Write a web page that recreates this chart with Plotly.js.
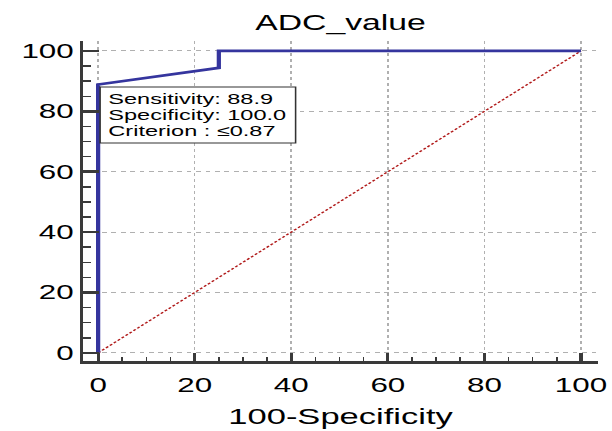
<!DOCTYPE html>
<html>
<head>
<meta charset="utf-8">
<script src="https://cdn.plot.ly/plotly-3.0.1.min.js"></script>
<style>
html, body { margin: 0; padding: 0; background: #fff; overflow: hidden; }
#plot { width: 390px; height: 431px; transform: scaleX(1.5692); transform-origin: 0 0; }
</style>
</head>
<body>
<div id="plot"></div>
<script>
// ROC curve data (100-Specificity, Sensitivity)
const rocX = [0, 0, 25, 25, 100];
const rocY = [0, 88.9, 94.4, 100, 100];
const diagX = [0, 100];
const diagY = [0, 100];
const tickVals = [0, 20, 40, 60, 80, 100];
const tickText = ["0", "20", "40", "60", "80", "100"];
const infoLines = ["Sensitivity: 88.9", "Specificity: 100.0", "Criterion : \u22640.87"];
const infoY = [84.1, 78.8, 73.5];

const font = "Liberation Sans, Arial, sans-serif";

const traces = [
  { x: diagX, y: diagY, mode: "lines", line: { color: "#b01818", width: 1.2, dash: "2px,1.5px" }, hoverinfo: "skip" },
  { x: rocX, y: rocY, mode: "lines", line: { color: "#35359e", width: 2.7 }, hoverinfo: "skip" }
];

const annotations = infoLines.map((t, i) => ({
  x: 1.5, y: infoY[i], xref: "x", yref: "y", xanchor: "left", yanchor: "middle",
  text: t, showarrow: false, font: { family: font, size: 15, color: "#000" }
}));

const layout = {
  width: 390, height: 431,
  margin: { l: 52.9, r: 8.9, t: 40.7, b: 69.5 },
  paper_bgcolor: "#fff", plot_bgcolor: "#fff",
  showlegend: false,
  title: { text: "ADC_value", font: { family: font, size: 21.5, color: "#000" },
           xref: "paper", x: 0.5, xanchor: "center", yref: "container", y: 1 - 22 / 431, yanchor: "middle" },
  xaxis: {
    range: [-3.1, 103.5], tickvals: tickVals, ticktext: tickText,
    showline: true, linecolor: "#3a3a3a", linewidth: 3,
    ticks: "inside", ticklen: 8, tickwidth: 2, tickcolor: "#3a3a3a",
    minor: { dtick: 5, tick0: 0, ticks: "inside", ticklen: 4, tickwidth: 1, tickcolor: "#3a3a3a", showgrid: false },
    showgrid: true, gridcolor: "#b0b0b0", griddash: "dot", gridwidth: 1,
    zeroline: false,
    ticklabelstandoff: 4,
    tickfont: { family: font, size: 20, color: "#000" },
    title: { text: "100-Specificity", font: { family: font, size: 22, color: "#000" }, standoff: 14 }
  },
  yaxis: {
    range: [-2.7, 103.3], tickvals: tickVals, ticktext: tickText,
    showline: true, linecolor: "#3a3a3a", linewidth: 2,
    ticks: "inside", ticklen: 10.2, tickwidth: 2.5, tickcolor: "#3a3a3a",
    minor: { dtick: 5, tick0: 0, ticks: "inside", ticklen: 5, tickwidth: 1.5, tickcolor: "#3a3a3a", showgrid: false },
    showgrid: true, gridcolor: "#b0b0b0", griddash: "dot", gridwidth: 1,
    zeroline: false,
    tickfont: { family: font, size: 20, color: "#000" }
  },
  shapes: [
    { type: "rect", xref: "x", yref: "y", x0: 0.41, x1: 40.9, y0: 69.5, y1: 88.1,
      fillcolor: "#fff", line: { color: "#333", width: 1 }, layer: "above" }
  ],
  annotations: annotations
};

Plotly.newPlot("plot", traces, layout, { staticPlot: true, displayModeBar: false });
</script>
</body>
</html>
